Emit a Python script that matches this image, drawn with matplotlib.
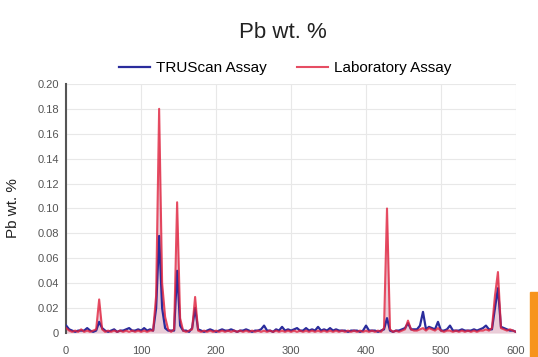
import numpy as np
import matplotlib.pyplot as plt
from matplotlib.patches import Rectangle

plt.rcParams['font.family'] = ['Liberation Sans', 'DejaVu Sans']

# sample number, every 4th sample from 0 to 600
sample_step = 4
sample_max = 600

truscan_pb = [
    0.006, 0.003, 0.002, 0.001, 0.002, 0.002, 0.002, 0.004, 0.002, 0.001,
    0.002, 0.009, 0.004, 0.002, 0.001, 0.002, 0.003, 0.001, 0.002, 0.002,
    0.003, 0.004, 0.002, 0.002, 0.003, 0.002, 0.004, 0.002, 0.003, 0.002,
    0.020, 0.078, 0.020, 0.004, 0.002, 0.002, 0.002, 0.050, 0.006, 0.002,
    0.002, 0.001, 0.004, 0.020, 0.003, 0.002, 0.001, 0.002, 0.003, 0.002,
    0.001, 0.002, 0.003, 0.002, 0.002, 0.003, 0.002, 0.001, 0.002, 0.002,
    0.003, 0.002, 0.001, 0.002, 0.002, 0.003, 0.006, 0.002, 0.002, 0.001,
    0.003, 0.002, 0.005, 0.002, 0.003, 0.002, 0.003, 0.004, 0.002, 0.002,
    0.004, 0.002, 0.003, 0.002, 0.005, 0.002, 0.003, 0.002, 0.004, 0.002,
    0.003, 0.002, 0.002, 0.002, 0.001, 0.002, 0.002, 0.002, 0.001, 0.002,
    0.006, 0.002, 0.002, 0.002, 0.001, 0.002, 0.003, 0.012, 0.002, 0.001,
    0.002, 0.002, 0.003, 0.004, 0.008, 0.003, 0.003, 0.003, 0.006, 0.017,
    0.003, 0.005, 0.004, 0.003, 0.009, 0.002, 0.002, 0.003, 0.006, 0.002,
    0.002, 0.002, 0.003, 0.002, 0.002, 0.002, 0.003, 0.002, 0.003, 0.004,
    0.006, 0.003, 0.003, 0.020, 0.036, 0.005, 0.004, 0.003, 0.002, 0.002,
    0.001,
]

lab_pb = [
    0.004, 0.002, 0.001, 0.002, 0.001, 0.003, 0.001, 0.002, 0.001, 0.002,
    0.003, 0.027, 0.003, 0.001, 0.002, 0.001, 0.002, 0.001, 0.002, 0.001,
    0.002, 0.001, 0.002, 0.001, 0.002, 0.001, 0.002, 0.001, 0.002, 0.002,
    0.030, 0.180, 0.040, 0.013, 0.003, 0.001, 0.003, 0.105, 0.012, 0.002,
    0.001, 0.002, 0.003, 0.029, 0.002, 0.001, 0.002, 0.001, 0.002, 0.001,
    0.002, 0.001, 0.002, 0.001, 0.002, 0.001, 0.002, 0.001, 0.002, 0.001,
    0.002, 0.001, 0.002, 0.001, 0.002, 0.001, 0.002, 0.001, 0.002, 0.001,
    0.002, 0.001, 0.002, 0.001, 0.002, 0.001, 0.002, 0.001, 0.002, 0.001,
    0.002, 0.001, 0.002, 0.001, 0.002, 0.001, 0.002, 0.001, 0.002, 0.001,
    0.002, 0.001, 0.002, 0.001, 0.002, 0.001, 0.002, 0.001, 0.002, 0.001,
    0.002, 0.001, 0.002, 0.001, 0.002, 0.001, 0.004, 0.100, 0.003, 0.001,
    0.002, 0.001, 0.002, 0.003, 0.010, 0.003, 0.002, 0.002, 0.003, 0.004,
    0.002, 0.004, 0.003, 0.002, 0.004, 0.002, 0.001, 0.002, 0.002, 0.001,
    0.002, 0.001, 0.002, 0.001, 0.002, 0.001, 0.002, 0.001, 0.002, 0.002,
    0.003, 0.002, 0.004, 0.030, 0.049, 0.004, 0.003, 0.002, 0.003, 0.002,
    0.001,
]

y_ticks = [0, 0.02, 0.04, 0.06, 0.08, 0.10, 0.12, 0.14, 0.16, 0.18, 0.20]
y_tick_labels = ['0', '0.02', '0.04', '0.06', '0.08', '0.10', '0.12',
                 '0.14', '0.16', '0.18', '0.20']
x_ticks = [0, 100, 200, 300, 400, 500, 600]

samples = np.arange(0, sample_max + 1, sample_step)
assert len(samples) == len(truscan_pb) == len(lab_pb)

fig = plt.figure(figsize=(5.38, 3.57), dpi=100)
ax = fig.add_axes([0.123, 0.067, 0.836, 0.698])

# light tint under the lab trace, then both traces on top
ax.fill_between(samples, lab_pb, 0, color='#c47090', alpha=0.35, lw=0, zorder=2)
ax.plot(samples, truscan_pb, color='#2a2c9c', lw=1.6, label='TRUScan Assay', zorder=3)
ax.plot(samples, lab_pb, color='#e0203c', lw=1.5, alpha=0.8, label='Laboratory Assay', zorder=4)

ax.set_xlim(0, 600)
ax.set_ylim(0, 0.20)
ax.set_xticks(x_ticks)
ax.set_yticks(y_ticks)
ax.set_yticklabels(y_tick_labels)
ax.tick_params(labelsize=8, colors='#555555', length=0)
ax.tick_params(axis='x', pad=9)
ax.tick_params(axis='y', pad=5)
ax.grid(True, color='#e8e8e8', lw=0.8)
ax.set_axisbelow(True)

for side in ['top', 'right', 'bottom']:
    ax.spines[side].set_visible(False)
ax.spines['left'].set_color('#555555')
ax.spines['left'].set_linewidth(1.5)

ax.set_ylabel('Pb wt. %', fontsize=11, color='#222222')
ax.yaxis.set_label_coords(-0.102, 0.5)
fig.text(0.526, 0.91, 'Pb wt. %', ha='center', va='center', fontsize=16, color='#222222')
ax.legend(loc='center', bbox_to_anchor=(0.487, 1.064), ncol=2, frameon=False,
          fontsize=11, handlelength=2.0, columnspacing=2.0, handletextpad=0.4)

# orange edge block in the lower right corner
fig.patches.append(Rectangle((0.985, 0.0), 0.02, 0.182, transform=fig.transFigure,
                             color='#f7941d', zorder=10))

fig.savefig('out.png', dpi=100)
